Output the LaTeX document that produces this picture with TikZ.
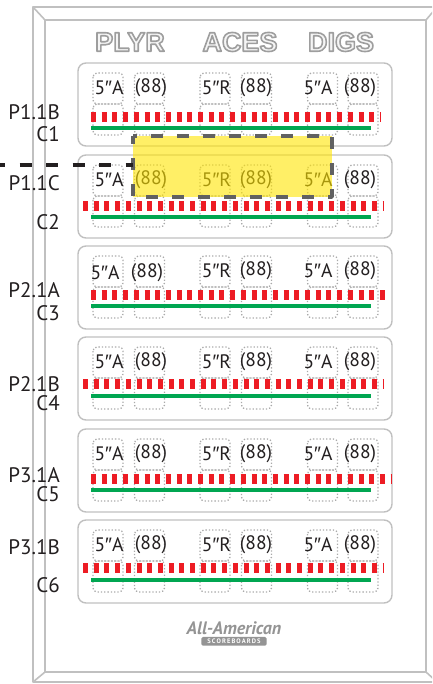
\documentclass[tikz,border=0pt]{standalone}
\usepackage{fontspec}
\setmainfont{PT Sans}
\newfontfamily\primefont{Liberation Sans}
\newfontfamily\headfont{Liberation Sans}
\newcommand\dq{{\primefont″}}
\usetikzlibrary{positioning}
\definecolor{boardgray}{RGB}{192,192,192}
\definecolor{digitgray}{RGB}{170,170,170}
\definecolor{ink}{RGB}{35,31,32}
\definecolor{ledred}{RGB}{237,28,36}
\definecolor{ledgreen}{RGB}{0,166,81}
\definecolor{hlyellow}{RGB}{255,228,0}
% hollow header letters: fill and stroke, light fill, grey stroke
\newcommand\hollow[1]{\special{pdf:literal direct 2 Tr 1.6 w 0.62 G 0.96 g}#1\special{pdf:literal direct 0 Tr}}
\begin{document}
\begin{tikzpicture}[x=1pt,y=-1pt,line join=round,
	frame/.style={draw=boardgray,line width=1.6pt},
	panel/.style={draw=boardgray,line width=1.4pt,rounded corners=8pt},
	digit/.style={draw=digitgray,line width=1.3pt,dotted,rounded corners=4pt},
	head/.style={font=\fontsize{27}{27}\selectfont\headfont\bfseries,inner sep=0pt},
	reading/.style={font=\fontsize{19.5}{19.5}\selectfont,text=ink,inner sep=0pt},
	tag/.style={font=\fontsize{21}{21}\selectfont,text=ink,anchor=east,inner sep=0pt},
	lamp/.style={draw=ledred,line width=10pt,dash pattern=on 5pt off 5.7pt},
	bar/.style={draw=ledgreen,line width=4.2pt},
	hlborder/.style={draw=black!62,line width=3.5pt,dash pattern=on 12pt off 14pt,dash phase=4pt},
	lead/.style={draw=ink,line width=4.5pt,dash pattern=on 12pt off 14.5pt,dash phase=7pt}]
	\useasboundingbox (0,0) rectangle (432,684);
	\clip (0,0) rectangle (432,684);
	% board frame
	\draw[frame] (33,7) rectangle (437,682);
	\draw[frame] (45,20) rectangle (426,672);
	\draw[frame] (33,7)--(45,20) (437,7)--(426,20) (33,682)--(45,672) (437,682)--(426,672);
	% header
	\foreach \t/\x in {PLYR/130,ACES/240,DIGS/341}
		\node[head] (h\t) at (\x,42) {\hollow{\t}};
	% panels: top / labels / label dy / red line dy, x0, x1 / green dy / first pair shift
	\foreach \top/\pl/\cl/\pdy/\cdy/\rdy/\rx/\rw/\gdy/\sx/\sy [count=\i] in {
		63/P1.1B/C1/49/71/54/91/380/65/0/0,
		155/P1.1C/C2/28/67/51/83/383/62/0/0,
		246/P2.1A/C3/44/67/49/91/390/60/-4/2,
		337/P2.1B/C4/47/66/47/83/383/59/0/0,
		429/P3.1A/C5/46/65/50/91/391/61/0/0,
		520/P3.1B/C6/27/65/48/83/383/60/0/0}{
		\draw[panel] (78,\top) rectangle (392,\top+83);
		\foreach \dx in {108,149.5,215,256.5,322.5,363}{
			\draw[digit] (\dx-15,\top+10) rectangle (\dx+15,\top+41);
			\draw[digit] (\dx-15,\top+41) rectangle (\dx+15,\top+72);
		}
		\node[reading] (a\i) at (109+\sx,\top+25+\sy) {5\dq A};
		\node[reading] (b\i) at (151+\sx,\top+25+\sy) {(88)};
		\node[reading] (r\i) at (216.5,\top+25) {5\dq R};
		\node[reading] (s\i) at (256,\top+25) {(88)};
		\node[reading] (d\i) at (318,\top+25) {5\dq A};
		\node[reading] (e\i) at (360,\top+25) {(88)};
		\draw[lamp] (\rx,\top+\rdy) -- (\rw,\top+\rdy);
		\draw[bar] (91,\top+\gdy) -- (371,\top+\gdy);
		\node[tag] (p\i) at (60,\top+\pdy) {\pl};
		\node[tag] (c\i) at (60,\top+\cdy) {\cl};
	}
	% logo
	\node[font=\fontsize{18}{18}\selectfont\bfseries\itshape,text=black!42,inner sep=0pt] (logo) at (234,628) {All-American};
	\node[below=2pt of logo,fill=black!42,text=white,rounded corners=1.5pt,inner xsep=6pt,inner ysep=2pt,
		font=\fontsize{6.5}{6.5}\selectfont\bfseries] (logob) {S\,C\,O\,R\,E\,B\,O\,A\,R\,D\,S};
	% highlight
	\coordinate (hlA) at (133,136);
	\coordinate (hlB) at (332,197);
	\fill[hlyellow,fill opacity=.6] (hlA) rectangle (hlB);
	\draw[hlborder] (hlA) rectangle (hlB);
	\coordinate (lead) at (0,165);
	\draw[lead] (lead) -- (lead -| hlA);
\end{tikzpicture}
\end{document}
